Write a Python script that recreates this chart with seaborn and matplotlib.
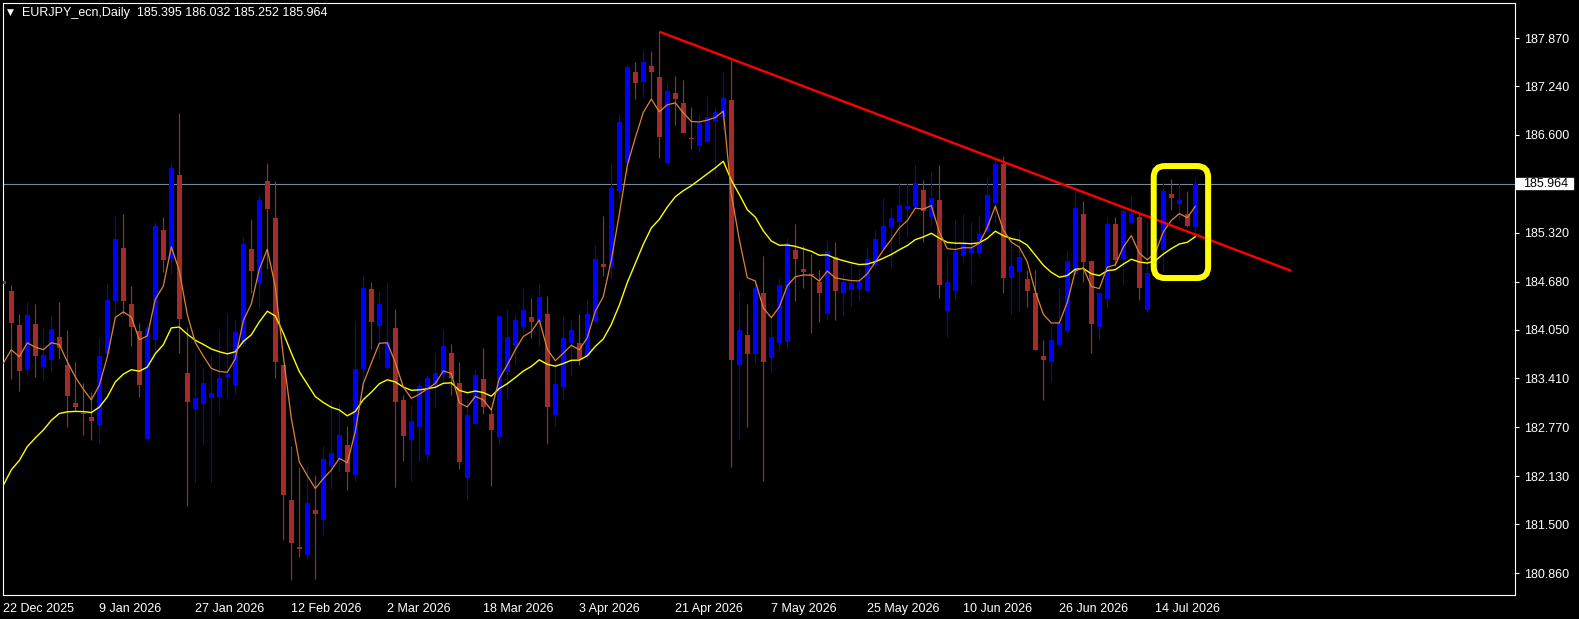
import numpy as np
import pandas as pd
import matplotlib
matplotlib.use("Agg")
import matplotlib.pyplot as plt
import matplotlib.transforms as mtransforms
from matplotlib.patches import FancyBboxPatch, Rectangle
import seaborn as sns

# daily EURJPY candles (bar 0 = 22 Dec 2025)
opens = [184.69, 184.56, 184.11, 183.53, 184.12, 183.56, 183.65, 183.95, 183.59, 183.09,
         182.96, 182.90, 182.80, 183.73, 184.43, 185.12, 184.39, 184.03, 182.62, 183.92,
         185.36, 184.98, 186.08, 183.48, 183.01, 183.08, 183.16, 183.17, 183.43, 183.32,
         183.86, 185.10, 184.66, 186.00, 185.51, 183.59, 181.82, 181.20, 181.10, 181.69,
         181.56, 182.27, 182.36, 182.54, 182.15, 183.53, 184.58, 184.10, 183.55, 184.07,
         183.13, 182.60, 182.78, 182.41, 183.32, 183.45, 183.74, 183.35, 182.10, 182.82,
         183.40, 182.94, 182.64, 183.50, 183.84, 184.09, 184.22, 184.15, 184.26, 182.93,
         183.30, 183.88, 183.87, 183.70, 184.16, 184.91, 184.87, 185.86, 186.23, 187.42,
         187.29, 187.51, 187.36, 186.23, 187.15, 187.02, 186.56, 186.46, 186.51, 186.77,
         186.84, 187.06, 183.59, 183.98, 183.73, 184.53, 183.68, 183.88, 183.89, 185.09,
         184.84, 184.77, 184.67, 184.26, 185.00, 184.53, 184.57, 184.58, 184.55, 184.90,
         185.10, 185.39, 185.46, 185.63, 185.65, 185.88, 185.52, 185.75, 184.29, 184.56,
         185.01, 185.05, 185.06, 185.33, 185.71, 186.22, 184.73, 184.81, 184.71, 184.53,
         183.70, 183.62, 183.85, 184.03, 184.78, 185.57, 184.95, 184.09, 184.45, 185.43,
         184.98, 185.45, 185.53, 184.31, 184.80, 185.09, 185.83, 185.70, 185.57, 185.395]
highs = [184.92, 184.63, 184.25, 184.41, 184.39, 184.07, 184.23, 184.41, 184.05, 183.63,
         183.35, 183.23, 183.94, 184.65, 185.54, 185.56, 184.62, 184.14, 184.13, 185.46,
         185.52, 186.23, 186.89, 184.09, 183.75, 183.55, 183.72, 184.06, 184.27, 184.18,
         185.26, 185.50, 185.81, 186.23, 186.00, 183.59, 182.52, 182.25, 182.26, 182.15,
         182.52, 183.13, 183.08, 182.79, 184.16, 184.77, 184.67, 184.54, 184.67, 184.32,
         183.20, 183.06, 183.36, 183.46, 183.74, 184.06, 183.86, 183.63, 183.15, 183.52,
         183.81, 183.04, 184.24, 184.32, 184.25, 184.60, 184.46, 184.65, 184.49, 183.61,
         184.23, 184.19, 184.25, 184.45, 185.16, 185.54, 186.22, 186.88, 187.52, 187.55,
         187.70, 187.70, 187.95, 187.30, 187.37, 187.32, 186.97, 186.88, 187.11, 186.97,
         187.43, 187.58, 184.57, 184.39, 184.73, 185.02, 184.22, 184.72, 185.25, 185.44,
         185.15, 185.04, 184.83, 185.21, 185.20, 184.79, 184.93, 184.84, 185.13, 185.35,
         185.77, 185.65, 185.98, 185.97, 186.21, 186.01, 186.11, 186.21, 185.00, 185.48,
         185.57, 185.46, 185.55, 186.05, 186.27, 186.32, 185.25, 185.36, 184.83, 184.83,
         183.91, 184.09, 184.61, 185.09, 185.90, 185.73, 184.95, 184.53, 185.53, 185.53,
         185.64, 185.81, 185.57, 185.46, 185.30, 185.99, 186.02, 185.97, 185.87, 186.032]
lows = [184.22, 183.40, 183.25, 183.46, 183.43, 183.38, 183.49, 183.67, 182.78, 182.99,
        182.67, 182.60, 182.57, 183.72, 184.22, 184.26, 183.84, 183.17, 182.62, 183.76,
        184.80, 184.78, 183.75, 181.74, 182.06, 182.54, 182.05, 182.94, 183.15, 183.21,
        183.83, 184.53, 184.33, 184.84, 183.42, 181.30, 180.77, 181.07, 181.04, 180.78,
        181.36, 181.96, 182.18, 181.95, 182.07, 183.29, 183.80, 183.66, 183.52, 181.99,
        182.33, 182.07, 182.33, 182.35, 183.03, 183.38, 183.19, 182.22, 181.82, 182.80,
        182.95, 182.00, 182.55, 183.15, 183.59, 184.01, 183.94, 183.84, 182.55, 182.79,
        183.13, 183.45, 183.59, 183.65, 184.15, 184.75, 184.72, 185.78, 186.07, 187.07,
        187.10, 187.07, 186.30, 186.23, 186.73, 186.63, 186.42, 186.38, 186.51, 186.05,
        186.66, 182.25, 182.60, 182.77, 183.61, 182.07, 183.48, 183.78, 183.81, 184.42,
        184.60, 184.00, 184.15, 184.17, 184.18, 184.24, 184.36, 184.43, 184.55, 184.85,
        185.09, 184.87, 185.16, 185.27, 185.64, 185.20, 185.41, 184.47, 183.96, 184.44,
        184.94, 184.63, 185.00, 185.33, 185.46, 184.53, 184.26, 184.28, 184.35, 183.78,
        183.13, 183.37, 183.85, 184.01, 184.77, 184.68, 183.74, 183.91, 184.35, 184.88,
        184.63, 185.44, 184.44, 184.28, 184.75, 184.82, 185.62, 185.48, 185.40, 185.252]
closes = [184.65, 184.14, 183.51, 184.24, 183.71, 183.72, 184.06, 183.81, 183.18, 183.03,
          182.95, 182.85, 183.70, 184.44, 185.24, 184.43, 184.08, 183.32, 184.07, 185.41,
          184.96, 186.17, 184.19, 183.10, 183.15, 183.35, 183.22, 183.42, 183.47, 184.02,
          185.17, 184.82, 185.75, 185.63, 183.63, 181.89, 181.26, 181.17, 181.78, 181.63,
          182.36, 182.43, 182.67, 182.19, 183.53, 184.60, 184.15, 184.39, 183.89, 183.10,
          182.66, 182.85, 183.31, 183.42, 183.48, 183.84, 183.41, 182.32, 182.93, 183.45,
          183.04, 182.73, 184.23, 183.95, 184.18, 184.31, 184.15, 184.48, 183.03, 183.34,
          183.94, 184.05, 183.67, 184.26, 184.98, 184.87, 185.91, 186.77, 187.49, 187.28,
          187.56, 187.42, 186.57, 187.18, 187.07, 186.63, 186.55, 186.76, 186.84, 186.90,
          187.08, 183.65, 184.04, 183.73, 184.60, 183.63, 183.95, 184.63, 185.18, 184.98,
          184.81, 184.76, 184.53, 185.08, 184.55, 184.67, 184.66, 184.68, 184.97, 185.24,
          185.41, 185.51, 185.68, 185.67, 185.97, 185.60, 185.77, 184.64, 184.67, 185.08,
          185.17, 185.12, 185.30, 185.81, 186.22, 184.73, 184.88, 185.00, 184.55, 183.78,
          183.65, 183.91, 184.14, 184.95, 185.64, 184.94, 184.13, 184.53, 185.43, 184.96,
          185.60, 185.58, 184.59, 184.79, 185.25, 185.87, 185.78, 185.75, 185.41, 185.964]

date_labels = ["22 Dec 2025", "9 Jan 2026", "27 Jan 2026", "12 Feb 2026", "2 Mar 2026",
               "18 Mar 2026", "3 Apr 2026", "21 Apr 2026", "7 May 2026", "25 May 2026",
               "10 Jun 2026", "26 Jun 2026", "14 Jul 2026"]
price_ticks = [187.870, 187.240, 186.600, 185.320, 184.680, 184.050,
               183.410, 182.770, 182.130, 181.500, 180.860]
last_price = 185.964
title = "EURJPY_ecn,Daily  185.395 186.032 185.252 185.964"

# moving average values at the first visible bar (history is off screen)
fast_start = 183.61
slow_start = 182.01

# hand drawn objects
trend_bars = [82, 161]
trend_prices = [187.953, 184.82]
box_bars = [143.8, 150.6]
box_prices = [184.726, 186.193]


def ema(values, span, start):
    a = 2.0 / (span + 1)
    out = [start]
    for v in values[1:]:
        out.append(out[-1] + a * (v - out[-1]))
    return out


df = pd.DataFrame({"open": opens, "high": highs, "low": lows, "close": closes})
df["bar"] = np.arange(len(df))
df["fast"] = ema(closes, 5, fast_start)
df["slow"] = ema(closes, 20, slow_start)
df["up"] = df["close"] >= df["open"]
df["color"] = np.where(df["up"], "#0000FF", "#A52A2A")
df["body_lo"] = df[["open", "close"]].min(axis=1)
df["body_h"] = (df["close"] - df["open"]).abs().clip(lower=0.013)

sns.set_theme(style="dark", rc={"axes.facecolor": "black", "figure.facecolor": "black",
                                "axes.edgecolor": "white", "text.color": "white",
                                "xtick.color": "white", "ytick.color": "white",
                                "axes.grid": False})
plt.rcParams["font.family"] = ["Liberation Sans", "DejaVu Sans"]

W, H = 1579, 619
fig = plt.figure(figsize=(W / 100, H / 100), dpi=100)
ax = fig.add_axes([2.7 / W, (H - 595) / H, (1515 - 2.7) / W, (595 - 2.7) / H])

ax.axhline(last_price, color="#778899", lw=0.8, zorder=1)

ax.vlines(df["bar"], df["low"], df["high"], colors=df["color"], lw=0.8, zorder=2)
ax.bar(df["bar"], df["body_h"], bottom=df["body_lo"], width=0.62,
       color=df["color"], linewidth=0, zorder=3)

sns.lineplot(data=df, x="bar", y="slow", color="#FFFF00", lw=1.0, ax=ax, zorder=4)
sns.lineplot(data=df, x="bar", y="fast", color="#D98536", lw=0.9, ax=ax, zorder=4)

ax.plot(trend_bars, trend_prices, color="#FF0000", lw=1.7, zorder=5,
        solid_capstyle="butt")

px_per_bar = 8.0
px_per_price = 1 / 0.0131
box = FancyBboxPatch((box_bars[0], box_prices[0]), box_bars[1] - box_bars[0],
                     box_prices[1] - box_prices[0],
                     boxstyle="round,pad=0,rounding_size=1.4",
                     mutation_aspect=px_per_bar / px_per_price,
                     fill=False, edgecolor="#FFFF00", lw=4.3, zorder=6)
ax.add_patch(box)

ax.set_xlim(-0.075, 188.96)
ax.set_ylim(180.5735, 188.333)

ax.set_xticks(np.arange(len(date_labels)) * 12)
ax.set_xticklabels(date_labels, ha="left", fontsize=9)
ax.yaxis.tick_right()
ax.set_yticks(price_ticks)
ax.set_yticklabels([f"{p:.3f}" for p in price_ticks], fontsize=9)
ax.tick_params(axis="x", length=3, width=0.8, pad=2.5, direction="out")
ax.tick_params(axis="y", length=3, width=0.8, pad=3.2, direction="out")
ax.set_xlabel("")
ax.set_ylabel("")
for s in ax.spines.values():
    s.set_color("white")
    s.set_linewidth(0.8)

# current price tag on the price scale
tr = mtransforms.blended_transform_factory(ax.transAxes, ax.transData)
ax.add_patch(Rectangle((1.00066, last_price - 0.072), 57 / 1512.3, 0.144,
                       transform=tr, color="white", clip_on=False, zorder=7))
ax.text(1.00502, last_price, f"{last_price:.3f}", transform=tr, color="black",
        fontsize=9, ha="left", va="center", clip_on=False, zorder=8)

fig.text(7 / W, 1 - 12.5 / H, "\u25BC", color="white", fontsize=6.5, va="center",
         ha="left", family="DejaVu Sans")
fig.text(21.7 / W, 1 - 12.7 / H, title, color="white", fontsize=9, va="center", ha="left")

fig.savefig("out.png", dpi=100, facecolor="black")
